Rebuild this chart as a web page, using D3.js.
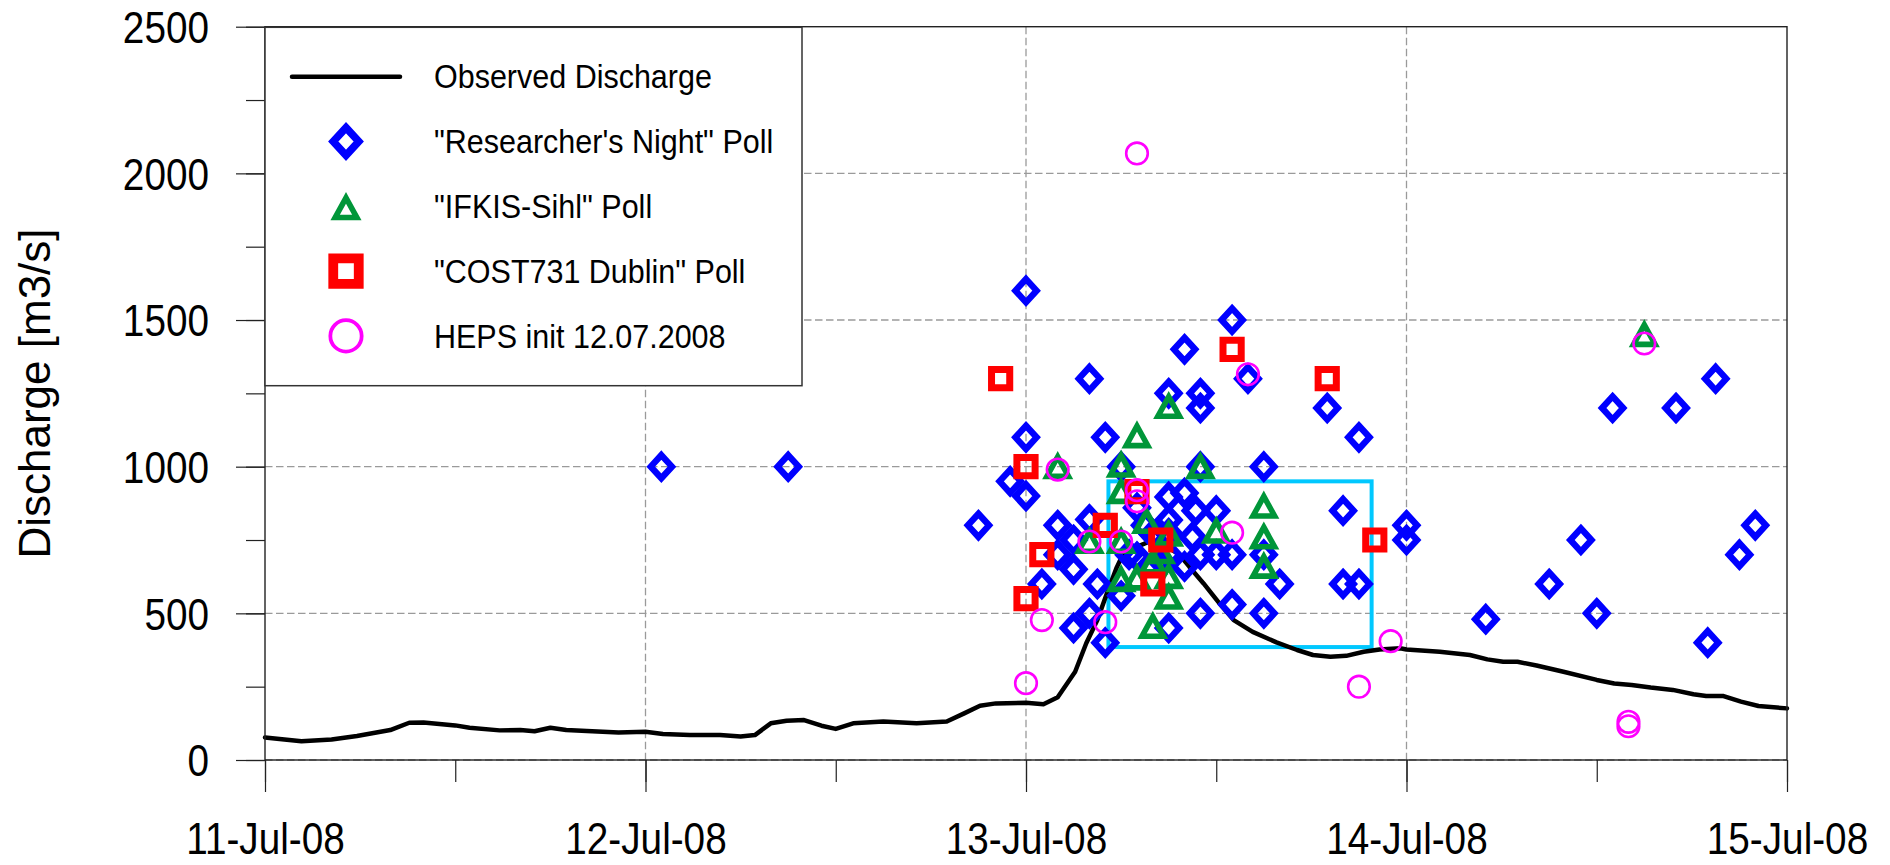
<!DOCTYPE html>
<html>
<head>
<meta charset="utf-8">
<script src="https://cdn.jsdelivr.net/npm/d3@7"></script>
<style>
  html, body { margin: 0; padding: 0; background: #fff; }
  svg { display: block; }
  text { font-family: "Liberation Sans", Arial, Helvetica, sans-serif; fill: #000; }
</style>
</head>
<body>
<svg id="chart" width="1890" height="865"></svg>
<script>
// ---- data -------------------------------------------------------------
// time is given in hours after 11-Jul-08 00:00, discharge in m3/s
const startDate = new Date(2008, 6, 11, 0, 0);
const endDate   = new Date(2008, 6, 15, 0, 0);

const yTickValues = [0, 500, 1000, 1500, 2000, 2500];

const obsHours = [0, 2.3, 4.2, 5.8, 7.9, 9.1, 10, 12, 12.9, 14.8, 16.1, 17, 18, 19, 20.3, 22.3,
  24, 25.1, 26.8, 28.7, 30, 30.9, 31.9, 32.9, 34, 35.1, 36, 37.1, 39, 41.1, 43, 44.1, 45.1, 46.1,
  48, 49.1, 50, 51.1, 51.8, 52.5, 53.1, 53.7, 54.1, 54.9, 55.8, 56.8, 57.7, 58.3, 59.2, 60.2,
  61.1, 62.3, 63.8, 65.1, 66.1, 67.2, 68.2, 69.3, 70.3, 71.6, 72, 74.1, 76, 77.1, 78.1, 79,
  80.2, 81.9, 84, 85.1, 86.2, 87.4, 88.8, 90.1, 90.9, 92, 93.1, 94.2, 96];
const obsQ = [77, 64, 70, 82, 102, 127, 128, 118, 110, 101, 102, 98, 110, 102, 99, 94,
  96, 89, 85, 85, 80, 85, 125, 134, 136, 117, 106, 125, 131, 125, 131, 159, 185, 193,
  195, 190, 214, 301, 398, 477, 568, 654, 699, 725, 745, 730, 699, 659, 602, 534,
  477, 437, 401, 375, 358, 352, 355, 369, 377, 381, 377, 369, 358, 343, 335, 335,
  322, 301, 273, 261, 256, 247, 239, 224, 218, 218, 199, 184, 176];

// "Researcher's Night" poll estimates [hour, discharge]
const researchersNight = [
  [25, 1000], [33, 1000], [45, 800], [47, 950], [48, 1600], [48, 1100], [48, 900],
  [49, 600], [50, 800], [50, 700], [51, 750], [51, 650], [51, 450], [52, 1300], [52, 820],
  [52, 500], [52.5, 600], [53, 1100], [53, 400], [54, 1000], [54, 560], [54.5, 700],
  [55, 860], [55, 693], [55.5, 800], [56, 770], [56.5, 680], [57, 1250], [57, 897],
  [57, 818], [57, 773], [57, 700], [57, 450], [58, 1400], [58, 910], [58.5, 760],
  [58, 660], [58.7, 850], [59, 1250], [59, 1200], [59, 1000], [59, 700], [59, 500],
  [60, 850], [60, 700], [61, 1500], [61, 700], [61, 530], [62, 1300], [63, 1000],
  [63, 700], [63, 500], [64, 600], [67, 1200], [68, 850], [68, 600], [69, 1100],
  [69, 600], [72, 800], [72, 750], [77, 480], [81, 600], [83, 750], [84, 500],
  [85, 1200], [89, 1200], [91, 400], [91.5, 1300], [93, 700], [94, 800]
];

// "IFKIS-Sihl" poll estimates
const ifkisSihl = [
  [50, 1005], [52, 750], [54, 750], [54, 1010], [54, 920], [55, 1110], [55.6, 818],
  [56, 680], [57, 775], [56.5, 715], [54, 620], [55, 625], [57, 630], [57, 560],
  [56, 460], [57, 1210], [59, 1005], [60, 785], [63, 870], [63, 765], [63, 665],
  [87, 1455]
];

// "COST731 Dublin" poll estimates
const cost731 = [
  [46.4, 1300], [48, 1000], [48, 550], [49, 700], [53, 800], [55, 915],
  [56.5, 750], [56, 600], [61, 1400], [67, 1300], [70, 750]
];

// HEPS ensemble members, initialised 12.07.2008
const heps = [
  [48, 262], [49, 477], [50, 990], [52, 745], [53, 470], [54, 745], [55, 920],
  [55, 882], [55, 2068], [61, 775], [62, 1315], [69, 250], [71, 405], [86, 130],
  [86, 115], [87, 1420]
];

// window of the observed flood peak: [start hour, end hour, low Q, high Q]
const peakWindow = [53.2, 69.8, 385, 950];

const legendLabels = [
  "Observed Discharge",
  "\"Researcher's Night\" Poll",
  "\"IFKIS-Sihl\" Poll",
  "\"COST731 Dublin\" Poll",
  "HEPS init 12.07.2008"
];

// ---- layout -----------------------------------------------------------
const plot = { left: 265, right: 1787, top: 26.7, bottom: 760 };
const svg = d3.select("#chart");

const at = h => new Date(startDate.getTime() + h * 3600e3);
const x = d3.scaleTime().domain([startDate, endDate]).range([plot.left, plot.right]);
const y = d3.scaleLinear().domain([0, 2500]).range([plot.bottom, plot.top]);

// squeeze text horizontally to the narrow face used throughout the figure
function condense(sel, k) {
  sel.each(function () {
    const w = this.getComputedTextLength();
    d3.select(this).attr("textLength", w * k).attr("lengthAdjust", "spacingAndGlyphs");
  });
}

// ---- marker shapes (symbol size = scale factor) -----------------------
const diamondShape = { draw(ctx, s) {
  const a = 10.6 * s, b = 11.6 * s;
  ctx.moveTo(0, -b); ctx.lineTo(a, 0); ctx.lineTo(0, b); ctx.lineTo(-a, 0); ctx.closePath();
} };
const triangleShape = { draw(ctx, s) {
  ctx.moveTo(0, -8.4 * s); ctx.lineTo(10.8 * s, 11.2 * s); ctx.lineTo(-10.8 * s, 11.2 * s); ctx.closePath();
} };
const squareShape = { draw(ctx, s) {
  const h = 9.1 * s;
  ctx.moveTo(-h, -h); ctx.lineTo(h, -h); ctx.lineTo(h, h); ctx.lineTo(-h, h); ctx.closePath();
} };
const circleShape = { draw(ctx, s) {
  const r = 10.8 * s;
  ctx.moveTo(r, 0); ctx.arc(0, 0, r, 0, 2 * Math.PI);
} };

const seriesStyles = [
  { data: researchersNight, shape: diamondShape, color: "#0000ff", width: 6.4, legendScale: 1.2 },
  { data: ifkisSihl,        shape: triangleShape, color: "#009639", width: 5.6, legendScale: 1.0 },
  { data: cost731,          shape: squareShape,   color: "#ff0000", width: 7,   legendScale: 1.4 },
  { data: heps,             shape: circleShape,   color: "#ff00ff", width: 2.6, legendScale: 1.45 }
];

// ---- grid -------------------------------------------------------------
const grid = svg.append("g").attr("stroke", "#9a9a9a").attr("stroke-width", 1.3)
  .attr("stroke-dasharray", "7.5,3.5").attr("fill", "none");
grid.selectAll("line.h").data(yTickValues.slice(0, -1)).join("line")
  .attr("x1", plot.left).attr("x2", plot.right)
  .attr("y1", d => y(d)).attr("y2", d => y(d));
grid.selectAll("line.v").data(x.ticks(d3.timeDay.every(1)).slice(1, -1)).join("line")
  .attr("x1", d => x(d)).attr("x2", d => x(d))
  .attr("y1", plot.top).attr("y2", plot.bottom);

// ---- peak window ------------------------------------------------------
svg.append("rect")
  .attr("x", x(at(peakWindow[0]))).attr("y", y(peakWindow[3]))
  .attr("width", x(at(peakWindow[1])) - x(at(peakWindow[0])))
  .attr("height", y(peakWindow[2]) - y(peakWindow[3]))
  .attr("fill", "none").attr("stroke", "#00c8ff").attr("stroke-width", 4);

// ---- observed discharge ----------------------------------------------
const obs = obsHours.map((h, i) => [at(h), obsQ[i]]);
svg.append("path").datum(obs)
  .attr("d", d3.line().x(d => x(d[0])).y(d => y(d[1])))
  .attr("fill", "none").attr("stroke", "#000").attr("stroke-width", 4.5)
  .attr("stroke-linejoin", "round").attr("stroke-linecap", "round");

// ---- poll markers -----------------------------------------------------
seriesStyles.forEach(s => {
  const sym = d3.symbol().type(s.shape).size(1);
  svg.append("g").selectAll("path").data(s.data).join("path")
    .attr("transform", d => `translate(${x(at(d[0]))},${y(d[1])})`)
    .attr("d", sym)
    .attr("fill", "none").attr("stroke", s.color).attr("stroke-width", s.width)
    .attr("stroke-linejoin", "miter");
});

// ---- axes -------------------------------------------------------------
const axisColor = "#222";
// minor y ticks
svg.append("g").attr("transform", `translate(${plot.left},0)`)
  .call(d3.axisLeft(y).tickValues(d3.range(0, 2501, 250)).tickSize(19).tickFormat(""))
  .call(g => g.select(".domain").remove())
  .call(g => g.selectAll("line").attr("stroke", axisColor).attr("stroke-width", 1.2));
// major y ticks with labels
const yAxisG = svg.append("g").attr("transform", `translate(${plot.left},0)`)
  .call(d3.axisLeft(y).tickValues(yTickValues).tickSize(29).tickPadding(27).tickFormat(d3.format("d")))
  .call(g => g.select(".domain").remove())
  .call(g => g.selectAll("line").attr("stroke", axisColor).attr("stroke-width", 1.2));
yAxisG.selectAll("text").attr("font-size", 44).attr("fill", "#000")
  .attr("font-family", "Liberation Sans, Arial, sans-serif").attr("dy", "0.36em");
condense(yAxisG.selectAll("text"), 0.88);

// minor x ticks
svg.append("g").attr("transform", `translate(0,${plot.bottom})`)
  .call(d3.axisBottom(x).ticks(d3.timeHour.every(12)).tickSize(22).tickFormat(""))
  .call(g => g.select(".domain").remove())
  .call(g => g.selectAll("line").attr("stroke", axisColor).attr("stroke-width", 1.2));
// major x ticks with labels
const xAxisG = svg.append("g").attr("transform", `translate(0,${plot.bottom})`)
  .call(d3.axisBottom(x).ticks(d3.timeDay.every(1)).tickSize(32).tickPadding(0)
    .tickFormat(d3.timeFormat("%d-%b-%y")))
  .call(g => g.select(".domain").remove())
  .call(g => g.selectAll("line").attr("stroke", axisColor).attr("stroke-width", 1.2));
xAxisG.selectAll("text").attr("font-size", 45).attr("fill", "#000")
  .attr("font-family", "Liberation Sans, Arial, sans-serif")
  .attr("y", 94).attr("dy", 0);
condense(xAxisG.selectAll("text"), 0.86);

// frame of the plot area
svg.append("rect")
  .attr("x", plot.left).attr("y", plot.top)
  .attr("width", plot.right - plot.left).attr("height", plot.bottom - plot.top)
  .attr("fill", "none").attr("stroke", axisColor).attr("stroke-width", 1.4);

// y axis title
svg.append("text")
  .attr("transform", `translate(50,${(225 + 562) / 2}) rotate(-90)`)
  .attr("text-anchor", "middle").attr("font-size", 44)
  .text("Discharge [m3/s]");

// ---- legend -----------------------------------------------------------
const legend = svg.append("g");
legend.append("rect")
  .attr("x", plot.left).attr("y", 27.3).attr("width", 802 - plot.left).attr("height", 385.7 - 27.3)
  .attr("fill", "#fff").attr("stroke", "#333").attr("stroke-width", 1.5);

const rowY = i => 76.7 + i * 64.8;
legend.append("line")
  .attr("x1", 292).attr("x2", 400).attr("y1", rowY(0)).attr("y2", rowY(0))
  .attr("stroke", "#000").attr("stroke-width", 4.5).attr("stroke-linecap", "round");
seriesStyles.forEach((s, i) => {
  legend.append("path")
    .attr("transform", `translate(346,${rowY(i + 1)})`)
    .attr("d", d3.symbol().type(s.shape).size(s.legendScale)())
    .attr("fill", "none").attr("stroke", s.color)
    .attr("stroke-width", s.width * s.legendScale)
    .attr("stroke-linejoin", "miter");
});
const legendText = legend.selectAll("text").data(legendLabels).join("text")
  .attr("x", 434).attr("y", (d, i) => rowY(i) + 11.6)
  .attr("font-size", 33.5)
  .text(d => d);
condense(legendText, 0.91);
</script>
</body>
</html>
